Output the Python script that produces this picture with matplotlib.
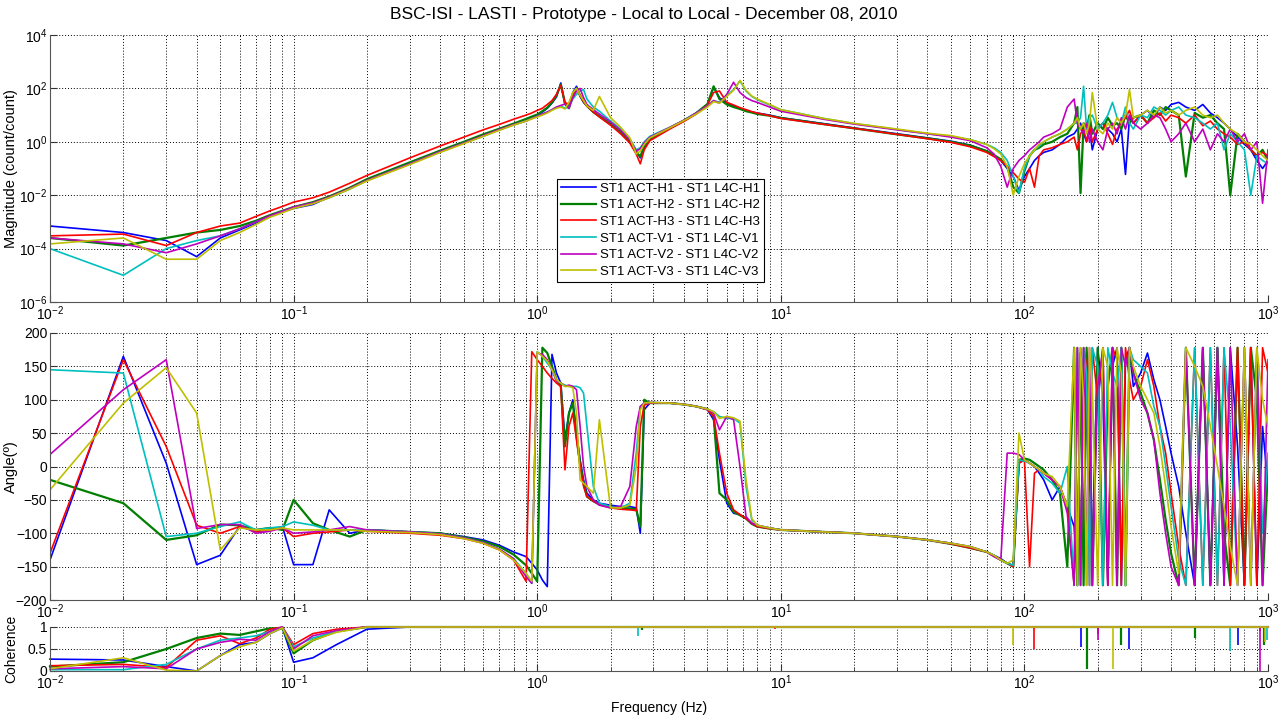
import matplotlib.pyplot as plt
from matplotlib.ticker import LogLocator, NullLocator, NullFormatter

plt.rcParams['font.family'] = ['Liberation Sans', 'DejaVu Sans']

labels = ['ST1 ACT-H1 - ST1 L4C-H1', 'ST1 ACT-H2 - ST1 L4C-H2', 'ST1 ACT-H3 - ST1 L4C-H3',
          'ST1 ACT-V1 - ST1 L4C-V1', 'ST1 ACT-V2 - ST1 L4C-V2', 'ST1 ACT-V3 - ST1 L4C-V3']
colors = ['#0000ff', '#007f00', '#ff0000', '#00bfbf', '#bf00bf', '#bfbf00']

# frequency grid (Hz): low/mid band then the noisy band above 100 Hz
freq_lf = [0.01, 0.02, 0.03, 0.04, 0.05, 0.06, 0.07, 0.08, 0.09, 0.1,
           0.12, 0.14, 0.17, 0.2, 0.3, 0.4, 0.5, 0.6, 0.7, 0.8,
           0.9, 0.95, 1.0, 1.05, 1.1, 1.15, 1.2, 1.25, 1.3, 1.35,
           1.4, 1.45, 1.5, 1.55, 1.6, 1.7, 1.8, 2.0, 2.2, 2.4,
           2.55, 2.65, 2.75, 2.9, 3.5, 4.0, 4.5, 5.0, 5.3, 5.6,
           6.0, 6.4, 6.8, 7.2, 7.6, 8, 9, 10, 15, 20,
           30, 40, 50, 60, 70, 75, 80, 85, 90, 95]
freq_hf = [100, 105, 110, 115, 120, 130, 140, 150, 160, 165,
           170, 175, 180, 185, 190, 200, 210, 220, 230, 240,
           250, 260, 270, 280, 300, 320, 340, 360, 380, 400,
           430, 460, 500, 540, 580, 620, 660, 700, 750, 800,
           850, 900, 950, 1000]
freq = freq_lf + freq_hf

# magnitude (count/count)
mag_h1 = [7e-4, 4e-4, 2e-4, 5e-5, 2.5e-4, 5e-4, 9e-4, 1.6e-3, 2.4e-3, 3.2e-3,
          4.5e-3, 8.5e-3, 1.8e-2, 3.8e-2, 0.16, 0.45, 0.95, 1.8, 3.0, 4.6,
          7, 8.5, 10, 13, 18, 28, 48, 160, 25, 20,
          70, 120, 50, 30, 22, 13, 9, 4.5, 2.2, 1.0,
          0.45, 0.25, 0.6, 1.2, 3.2, 6, 12, 25, 110, 45,
          28, 22, 18, 15, 13, 12, 10, 8, 4.8, 3.3,
          2.0, 1.4, 1.05, 0.75, 0.45, 0.3, 0.2, 0.1, 0.05, 0.015,
          0.05, 0.1, 0.2, 0.3, 0.4, 0.5, 0.8, 1.5, 2, 3,
          5, 2, 1, 3, 0.5, 3, 5, 3, 2, 1,
          3, 0.06, 8, 5, 10, 15, 8, 20, 15, 25,
          30, 20, 15, 25, 12, 8, 5, 3, 1.5, 0.8,
          0.5, 0.2, 0.1, 0.2]
mag_h2 = [2.5e-4, 1.3e-4, 2.5e-4, 4e-4, 5e-4, 7e-4, 1.1e-3, 1.8e-3, 2.6e-3, 3.6e-3,
          5.5e-3, 9e-3, 1.9e-2, 4e-2, 0.17, 0.47, 1.0, 1.9, 3.1, 4.8,
          7.2, 8.8, 10.5, 14, 19, 30, 55, 140, 28, 18,
          60, 100, 55, 32, 22, 13, 9, 4.6, 2.3, 1.0,
          0.4, 0.28, 0.7, 1.3, 3.3, 6.2, 12, 26, 120, 40,
          25, 20, 17, 14, 12.5, 11, 9.5, 7.8, 4.6, 3.2,
          1.9, 1.35, 1.0, 0.72, 0.45, 0.32, 0.22, 0.12, 0.02, 0.012,
          0.08, 0.3, 0.5, 0.6, 0.8, 1, 1.5, 2, 5, 20,
          0.012, 5, 3, 10, 2, 5, 3, 8, 4, 5,
          3, 10, 5, 8, 10, 5, 15, 10, 20, 15,
          10, 0.05, 12, 8, 10, 5, 3, 0.01, 2, 1,
          0.5, 0.3, 0.5, 0.2]
mag_h3 = [3e-4, 3.5e-4, 1.3e-4, 4e-4, 7e-4, 9e-4, 1.6e-3, 2.6e-3, 3.8e-3, 5.5e-3,
          8e-3, 1.3e-2, 2.8e-2, 5.5e-2, 0.25, 0.7, 1.5, 2.8, 4.5, 7,
          10, 12, 15, 18, 25, 35, 60, 130, 30, 25,
          50, 90, 55, 32, 22, 13, 8.5, 4.2, 2.0, 0.9,
          0.35, 0.15, 0.5, 1.1, 3.0, 5.8, 11, 24, 70, 80,
          30, 24, 19, 16, 13.5, 12, 9.5, 7.5, 4.5, 3.2,
          1.9, 1.3, 0.95, 0.65, 0.4, 0.28, 0.2, 0.12, 0.07, 0.04,
          0.03, 0.1, 0.02, 0.3, 0.5, 0.6, 0.8, 1, 1.5, 0.5,
          2, 3, 1, 4, 1, 3, 5, 2, 0.8, 3,
          5, 8, 15, 5, 10, 5, 8, 12, 6, 10,
          8, 5, 10, 4, 6, 3, 2, 1.5, 0.8, 1,
          0.5, 0.3, 0.4, 0.3]
mag_v1 = [1e-4, 1e-5, 1e-4, 2e-4, 3e-4, 5.5e-4, 1e-3, 1.6e-3, 2.5e-3, 3.5e-3,
          5e-3, 8e-3, 1.7e-2, 3.5e-2, 0.15, 0.42, 0.9, 1.6, 2.8, 4.3,
          6, 7.5, 9, 11, 13, 16, 20, 22, 18, 20,
          40, 60, 80, 90, 40, 20, 14, 6, 3, 1.3,
          0.5, 0.6, 1.0, 1.6, 3.5, 6.5, 12, 22, 35, 30,
          55, 90, 190, 80, 50, 38, 24, 16, 7.5, 4.8,
          2.9, 2.0, 1.6, 1.2, 0.8, 0.6, 0.4, 0.2, 0.05, 0.012,
          0.1, 0.3, 0.5, 0.7, 1, 1.5, 2, 3, 5, 5,
          8, 120, 3, 8, 10, 3, 5, 10, 30, 8,
          5, 20, 5, 3, 10, 8, 20, 15, 10, 15,
          20, 10, 8, 5, 3, 5, 0.5, 2, 1, 0.5,
          0.01, 0.3, 0.2, 0.15]
mag_v2 = [2.5e-4, 1.5e-4, 7e-5, 1.5e-4, 3e-4, 5.5e-4, 1e-3, 1.7e-3, 2.5e-3, 3.6e-3,
          5.2e-3, 8.5e-3, 1.8e-2, 3.6e-2, 0.15, 0.43, 0.9, 1.7, 2.9, 4.4,
          6, 7.5, 9, 11, 13, 16, 20, 23, 26, 18,
          45, 80, 100, 45, 25, 16, 11, 5.5, 2.7, 1.2,
          0.45, 0.55, 0.9, 1.5, 3.4, 6.4, 12, 22, 35, 28,
          60, 170, 70, 45, 35, 30, 20, 14, 7, 4.6,
          2.8, 2.0, 1.5, 1.1, 0.6, 0.35, 0.12, 0.02, 0.1, 0.2,
          0.3, 0.5, 0.7, 1, 1.5, 2, 3, 20, 40, 5,
          3, 2, 5, 1, 3, 1, 0.5, 3, 5, 2,
          8, 3, 10, 5, 3, 5, 10, 8, 3, 1,
          2, 5, 1, 3, 0.5, 2, 1, 3, 1, 2,
          0.5, 1, 0.005, 0.5]
mag_v3 = [1.5e-4, 2.5e-4, 4e-5, 4e-5, 2e-4, 4e-4, 8e-4, 1.5e-3, 2.2e-3, 3.2e-3,
          4.8e-3, 8e-3, 1.7e-2, 3.4e-2, 0.14, 0.4, 0.85, 1.6, 2.7, 4.2,
          6, 7.2, 8.5, 10, 12, 15, 18, 20, 17, 30,
          70, 100, 55, 35, 22, 15, 50, 8, 3.5, 1.4,
          0.35, 0.45, 0.8, 1.4, 3.3, 6.2, 11, 20, 32, 28,
          50, 85, 200, 85, 52, 40, 25, 16, 7.5, 4.9,
          3.0, 2.1, 1.7, 1.2, 0.8, 0.55, 0.35, 0.12, 0.01, 0.05,
          0.15, 0.3, 0.5, 0.8, 1, 1.5, 2, 3, 5, 8,
          3, 5, 2, 5, 70, 3, 2, 5, 3, 8,
          5, 10, 90, 8, 10, 15, 10, 20, 12, 15,
          10, 15, 20, 10, 8, 10, 5, 3, 2, 1,
          0.8, 0.5, 0.3, 0.2]

# phase (deg)
ph_h1 = [-140, 165, 5, -147, -133, -90, -97, -95, -90, -147,
         -147, -65, -100, -95, -98, -100, -105, -110, -118, -128,
         -135, -145, -155, -170, -180, 168, 140, 125, 40, 80,
         100, 50, 10, -20, -40, -50, -55, -58, -60, -60,
         -62, -100, 85, 95, 95, 93, 90, 85, 70, 10,
         -55, -70, -72, -78, -85, -90, -92, -95, -98, -100,
         -105, -110, -115, -121, -128, -133, -138, -145, -148, 5,
         10, 5, 0, -10, -20, -50, -30, -60, -90, -178,
         178, 120, 60, -20, -120, 178, 100, -178, 150, 178,
         -178, 160, 178, 120, 140, 170, 130, 100, 60, 20,
         -30, -100, -178, 178, -178, 178, -178, 178, 30, -178,
         178, -178, 60, -30]
ph_h2 = [-20, -55, -110, -103, -87, -88, -95, -92, -95, -50,
         -85, -95, -105, -95, -98, -100, -106, -112, -120, -132,
         -148, -160, -172, 178, 170, 150, 130, 120, 30, 80,
         95, 45, 5, -25, -45, -52, -57, -60, -62, -63,
         -64, -90, 100, 95, 95, 93, 90, 86, 75, -40,
         -50, -68, -73, -78, -86, -90, -93, -95, -98, -100,
         -105, -110, -116, -122, -128, -134, -140, -145, -150, 10,
         12, 10, 5, 0, -5, -20, -40, -150, 178, -178,
         170, -178, 178, 90, -178, 178, -178, 120, 178, -178,
         178, -178, 178, 140, 110, 80, 40, -20, -80, -130,
         -178, 178, -178, 178, -178, 178, -100, -178, 178, -178,
         178, 100, -178, 0]
ph_h3 = [-130, 160, 30, -88, -100, -90, -97, -95, -92, -105,
         -100, -98, -95, -97, -100, -103, -108, -115, -125, -140,
         -172, 172, 160, 150, 140, 132, 125, 120, -5, 60,
         80, 40, 0, -30, -45, -52, -57, -62, -64, -65,
         -66, 60, 92, 95, 95, 93, 90, 85, 75, 20,
         -40, -65, -72, -78, -85, -90, -93, -95, -98, -100,
         -105, -110, -116, -122, -128, -134, -140, -145, -150, 5,
         10, -150, -10, -5, -10, -20, -30, -60, -178, 178,
         -178, 178, 150, -178, 178, 100, 178, -178, 178, 160,
         -178, 178, 130, 100, 120, 160, 120, 60, 20, -40,
         -120, -178, 178, -178, 178, -178, 178, -178, 178, -178,
         178, -178, 178, 140]
ph_v1 = [145, 140, -105, -100, -90, -83, -95, -92, -90, -83,
         -88, -95, -95, -95, -98, -101, -107, -114, -124, -138,
         -160, -175, 172, 165, 155, 145, 128, 125, 122, 120,
         120, 120, 118, 110, 60, -30, -55, -60, -62, -55,
         20, 90, 95, 96, 95, 93, 90, 86, 82, 75,
         72, 72, 65, -30, -80, -88, -92, -95, -98, -100,
         -105, -110, -115, -120, -128, -133, -140, -145, -148, 10,
         8, 5, 0, -5, -15, -25, -40, 0, -178, 178,
         -178, 178, 140, -178, 178, 150, -178, 178, 140, 120,
         178, -178, 178, 160, 150, 140, 90, 60, 0, -60,
         -140, -178, 178, -178, 178, -178, 178, 60, -178, 178,
         -178, 178, -100, 20]
ph_v2 = [18, 115, 160, -93, -87, -87, -100, -97, -92, -100,
         -98, -95, -90, -95, -98, -101, -107, -114, -124, -138,
         -165, -175, 170, 168, 160, 145, 128, 125, 120, 122,
         120, 115, 60, 0, -30, -50, -58, -62, -60, -30,
         60, 90, 95, 96, 95, 93, 90, 86, 80, 55,
         75, 70, 0, -75, -85, -88, -92, -95, -98, -100,
         -105, -110, -115, -120, -128, -135, -140, 20, 20, 18,
         10, 5, 0, -5, -10, -20, -30, -70, -178, 178,
         -178, 178, -178, 178, -178, 120, 178, -178, 178, -178,
         178, 150, 178, 140, 100, 80, 40, -40, -100, -150,
         -178, 178, -178, 178, -178, 178, -178, 178, -178, 178,
         -178, 178, -178, 160]
ph_v3 = [-35, 95, 148, 80, -125, -92, -95, -95, -92, -95,
         -95, -95, -95, -97, -99, -102, -108, -115, -125, -140,
         -160, -172, 172, 165, 158, 145, 130, 125, 120, 120,
         118, 80, -20, -25, -30, -40, 70, -62, -62, -58,
         0, 85, 95, 96, 95, 93, 90, 86, 82, 72,
         75, 73, 68, -20, -78, -88, -92, -95, -98, -100,
         -105, -110, -115, -120, -128, -133, -140, -145, -140, 50,
         10, 5, 0, -5, -10, -15, -30, -60, 178, -178,
         178, 100, -178, 178, 120, -178, 178, 150, -178, 178,
         140, -178, 178, 150, 120, 100, 80, 30, -30, -90,
         -160, 178, 150, 120, 60, 0, -60, -120, -178, 178,
         -178, 178, 100, 60]

# coherence
freq_coh = [0.01, 0.02, 0.03, 0.04, 0.05, 0.06, 0.07, 0.08, 0.09, 0.1, 0.12, 0.15, 0.2, 0.3, 1000]
coh_h1 = [0.27, 0.25, 0.1, 0.0, 0.35, 0.6, 0.65, 0.85, 0.98, 0.2, 0.3, 0.6, 0.95, 1, 1]
coh_h2 = [0.1, 0.2, 0.5, 0.75, 0.85, 0.82, 0.9, 0.97, 0.97, 0.4, 0.7, 0.9, 1, 1, 1]
coh_h3 = [0.12, 0.15, 0.08, 0.7, 0.8, 0.62, 0.75, 0.95, 1.0, 0.6, 0.85, 0.95, 1, 1, 1]
coh_v1 = [0.03, 0.03, 0.15, 0.5, 0.7, 0.75, 0.8, 0.9, 1.0, 0.55, 0.75, 0.9, 1, 1, 1]
coh_v2 = [0.05, 0.1, 0.05, 0.5, 0.65, 0.72, 0.7, 0.9, 1.0, 0.5, 0.8, 0.92, 1, 1, 1]
coh_v3 = [0.05, 0.3, 0.02, 0.0, 0.35, 0.55, 0.65, 0.85, 0.98, 0.45, 0.7, 0.88, 1, 1, 1]
# narrow coherence drops: frequency (Hz), lowest value
dip_f_h1, dip_c_h1 = [2.7, 170, 270, 750, 960], [0.95, 0.55, 0.5, 0.6, 0.8]
dip_f_h2, dip_c_h2 = [2.7, 180, 250, 500, 960], [0.93, 0.05, 0.6, 0.75, 0.6]
dip_f_h3, dip_c_h3 = [9.5, 110, 200, 930], [0.95, 0.5, 0.85, 0.9]
dip_f_v1, dip_c_v1 = [2.6, 700, 990], [0.8, 0.45, 0.7]
dip_f_v2, dip_c_v2 = [200, 930], [0.7, 0.0]
dip_f_v3, dip_c_v3 = [90, 230, 970], [0.6, 0.05, 0.65]

mags = [mag_h1, mag_h2, mag_h3, mag_v1, mag_v2, mag_v3]
phases = [ph_h1, ph_h2, ph_h3, ph_v1, ph_v2, ph_v3]
cohs = [coh_h1, coh_h2, coh_h3, coh_v1, coh_v2, coh_v3]
dips = [(dip_f_h1, dip_c_h1), (dip_f_h2, dip_c_h2), (dip_f_h3, dip_c_h3),
        (dip_f_v1, dip_c_v1), (dip_f_v2, dip_c_v2), (dip_f_v3, dip_c_v3)]

fig = plt.figure(figsize=(12.88, 7.17), dpi=100)
W, H = 1288., 717.
ax1 = fig.add_axes([50/W, 1-302/H, 1218/W, 267/H])
ax2 = fig.add_axes([50/W, 1-600/H, 1218/W, 267/H])
ax3 = fig.add_axes([50/W, 1-671/H, 1218/W, 44/H])

for i in range(6):
    lw = 1.6 if i == 1 else 1.2
    ax1.loglog(freq, mags[i], color=colors[i], lw=lw, label=labels[i])
    ax2.semilogx(freq, phases[i], color=colors[i], lw=lw)
    ax3.semilogx(freq_coh, cohs[i], color=colors[i], lw=lw, clip_on=False)
    ax3.vlines(dips[i][0], dips[i][1], 1, color=colors[i], lw=lw)

for ax in (ax1, ax2, ax3):
    ax.set_xlim(1e-2, 1e3)
    ax.xaxis.set_major_locator(LogLocator(base=10, numticks=10))
    ax.xaxis.set_minor_locator(LogLocator(base=10, subs=range(2, 10), numticks=20))
    ax.xaxis.set_minor_formatter(NullFormatter())
    ax.grid(True, which='major', color='black', linestyle=(0, (1, 2)), lw=0.7)
    ax.grid(True, which='minor', axis='x', color='black', linestyle=(0, (1, 2)), lw=0.7)
    ax.tick_params(which='both', direction='in', labelsize=10, colors='#333333', pad=2)
    ax.tick_params(which='major', length=5)
    ax.tick_params(which='minor', length=3)
    ax.spines['top'].set_visible(False)
    ax.spines['right'].set_visible(False)
    for s in ('left', 'bottom'):
        ax.spines[s].set_color('#555555')
    ax.tick_params(labelcolor='black')

ax1.set_ylim(1e-6, 1e4)
ax1.set_yticks([1e-6, 1e-4, 1e-2, 1e0, 1e2, 1e4])
ax1.yaxis.set_minor_locator(NullLocator())
ax1.set_ylabel('Magnitude (count/count)', fontsize=10.5)
ax1.yaxis.set_label_coords(-0.026, 0.5)

ax2.set_ylim(-200, 200)
ax2.set_yticks(range(-200, 201, 50))
ax2.set_ylabel('Angle(º)', fontsize=10.5)
ax2.yaxis.set_label_coords(-0.026, 0.5)

ax3.set_ylim(0, 1)
ax3.set_yticks([0, 0.5, 1])
ax3.set_yticklabels(['0', '0.5', '1'])
ax3.set_ylabel('Coherence', fontsize=10)
ax3.yaxis.set_label_coords(-0.026, 0.5)
ax3.set_xlabel('Frequency (Hz)', fontsize=10, labelpad=6)

leg = ax1.legend(loc='upper left', bbox_to_anchor=(0.4165, 0.462), fontsize=9.5,
                 frameon=True, fancybox=False, framealpha=1, edgecolor='black',
                 handlelength=2.6, labelspacing=0.33, borderpad=0.3, handletextpad=0.3,
                 borderaxespad=0)
leg.get_frame().set_linewidth(0.8)

fig.suptitle('BSC-ISI - LASTI - Prototype - Local to Local - December 08, 2010',
             fontsize=12.5, y=1-15/H, va='center')

fig.savefig('out.png', dpi=100)
